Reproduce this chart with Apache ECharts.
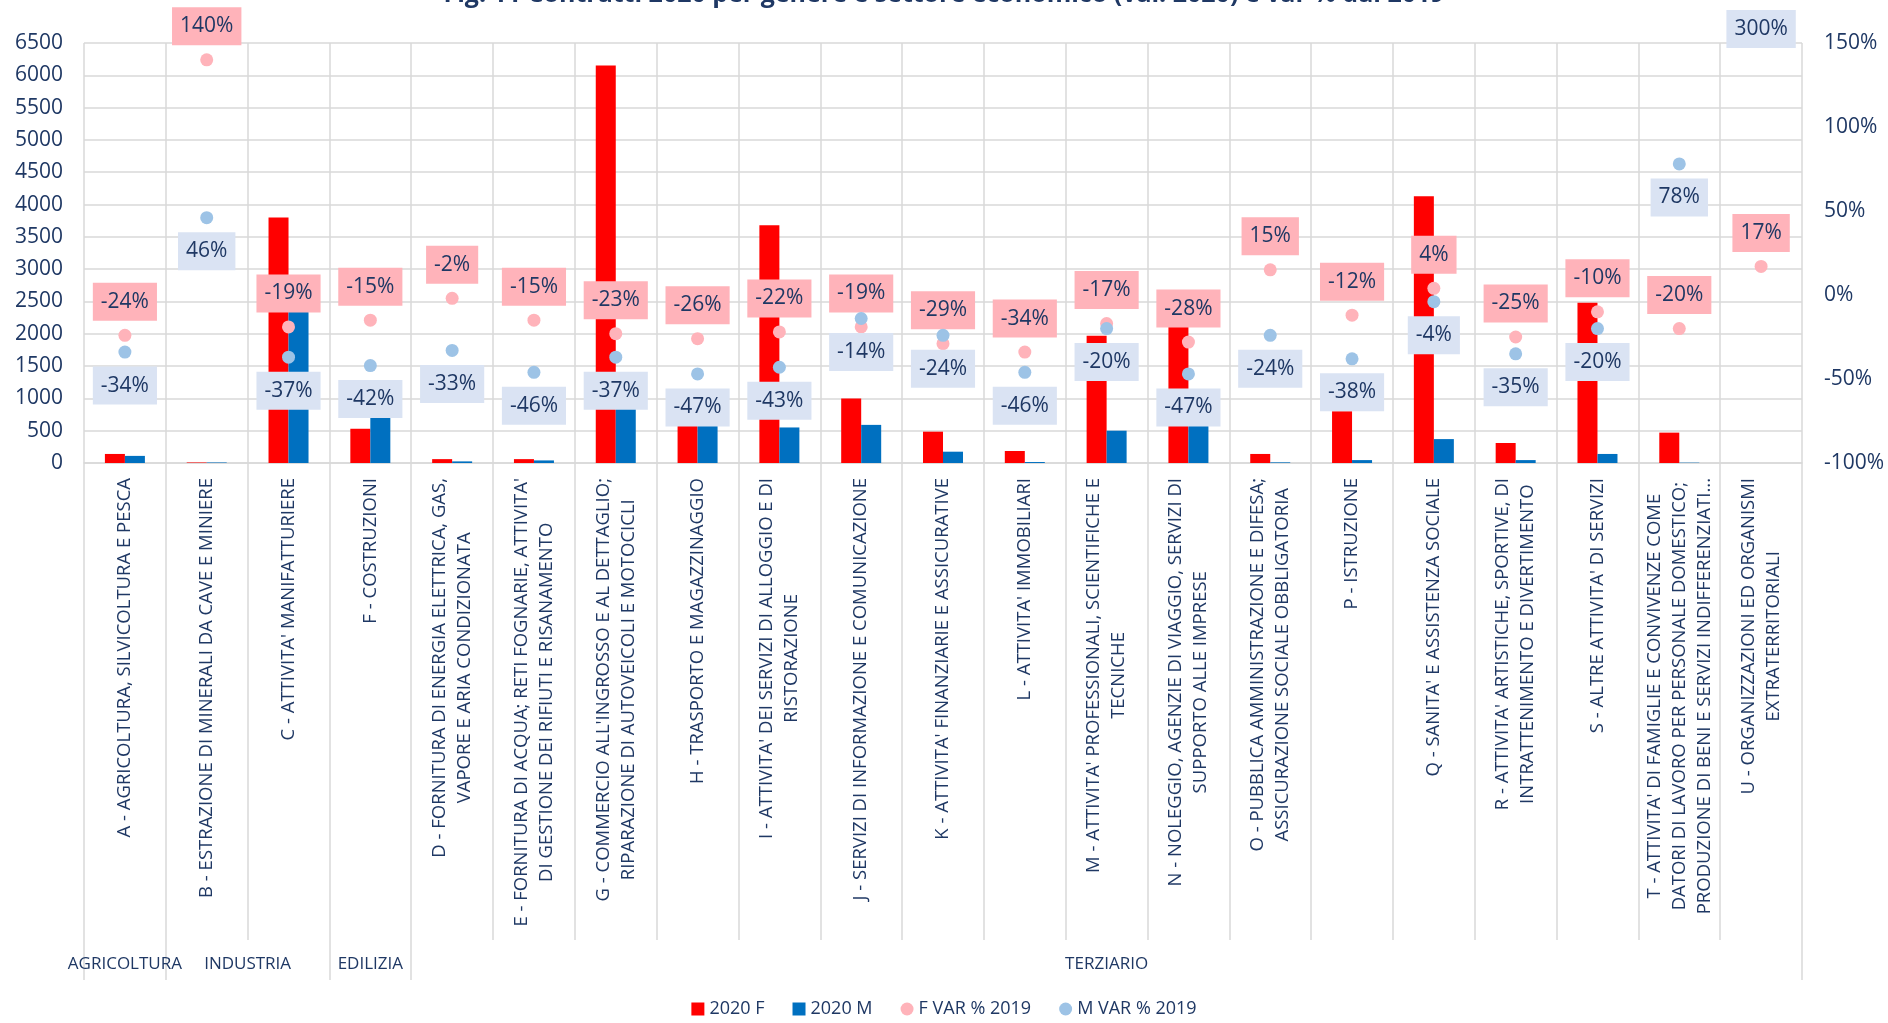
<!DOCTYPE html>
<html>
<head>
<meta charset="utf-8">
<script src="https://cdn.jsdelivr.net/npm/echarts@6/dist/echarts.min.js"></script>
<style>
  html, body { margin: 0; padding: 0; background: #ffffff; }
  #chart { width: 1888px; height: 1023px; }
</style>
</head>
<body>
<div id="chart"></div>
<script>
// settori (ordine del grafico)
const categories = [
  "A - AGRICOLTURA, SILVICOLTURA E PESCA",
  "B - ESTRAZIONE DI MINERALI DA CAVE E MINIERE",
  "C - ATTIVITA' MANIFATTURIERE",
  "F - COSTRUZIONI",
  "D - FORNITURA DI ENERGIA ELETTRICA, GAS,\nVAPORE E ARIA CONDIZIONATA",
  "E - FORNITURA DI ACQUA; RETI FOGNARIE, ATTIVITA'\nDI GESTIONE DEI RIFIUTI E RISANAMENTO",
  "G - COMMERCIO ALL'INGROSSO E AL DETTAGLIO;\nRIPARAZIONE DI AUTOVEICOLI E MOTOCICLI",
  "H - TRASPORTO E MAGAZZINAGGIO",
  "I - ATTIVITA' DEI SERVIZI DI ALLOGGIO E DI\nRISTORAZIONE",
  "J - SERVIZI DI INFORMAZIONE E COMUNICAZIONE",
  "K - ATTIVITA' FINANZIARIE E ASSICURATIVE",
  "L - ATTIVITA' IMMOBILIARI",
  "M - ATTIVITA' PROFESSIONALI, SCIENTIFICHE E\nTECNICHE",
  "N - NOLEGGIO, AGENZIE DI VIAGGIO, SERVIZI DI\nSUPPORTO ALLE IMPRESE",
  "O - PUBBLICA AMMINISTRAZIONE E DIFESA;\nASSICURAZIONE SOCIALE OBBLIGATORIA",
  "P - ISTRUZIONE",
  "Q - SANITA' E ASSISTENZA SOCIALE",
  "R - ATTIVITA' ARTISTICHE, SPORTIVE, DI\nINTRATTENIMENTO E DIVERTIMENTO",
  "S - ALTRE ATTIVITA' DI SERVIZI",
  "T - ATTIVITA' DI FAMIGLIE E CONVIVENZE COME\nDATORI DI LAVORO PER PERSONALE DOMESTICO;\nPRODUZIONE DI BENI E SERVIZI INDIFFERENZIATI...",
  "U - ORGANIZZAZIONI ED ORGANISMI\nEXTRATERRITORIALI"
];

// macro settori e numero di settori in ciascuno
const groupNames = ['AGRICOLTURA', 'INDUSTRIA', 'EDILIZIA', 'TERZIARIO'];
const groupSizes = [1, 2, 1, 17];

// contratti 2020
const f2020 = [140, 8, 3800, 530, 60, 60, 6150, 590, 3680, 1000, 485, 186, 1970, 2120, 140, 800, 4130, 310, 2480, 470, 0];
const m2020 = [110, 8, 2450, 720, 25, 40, 870, 590, 550, 590, 175, 15, 500, 590, 10, 45, 370, 45, 140, 5, 0];

// variazione % sul 2019
const fVar = [-24, 140, -19, -15, -2, -15, -23, -26, -22, -19, -29, -34, -17, -28, 15, -12, 4, -25, -10, -20, 17];
const mVar = [-34, 46, -37, -42, -33, -46, -37, -47, -43, -14, -24, -46, -20, -47, -24, -38, -4, -35, -20, 78, 300];

const leftTicks = { min: 0, max: 6500, interval: 500 };
const rightTicks = { min: -100, max: 150, interval: 50 };

const navy = '#1F3864';
const gridGray = '#D9D9D9';
const font = 'Open Sans';

// confini e centri dei macro settori
const groupBounds = [0];
groupSizes.forEach((s, i) => groupBounds.push(groupBounds[i] + s));
const groupCenters = groupSizes.map((s, i) => groupBounds[i] + s / 2);

// punti fuori scala (es. 300%)
const mOver = mVar
  .map((v, i) => v > rightTicks.max ? { coord: [i, rightTicks.max], value: v } : null)
  .filter(Boolean);

const chart = echarts.init(document.getElementById('chart'));

const pctLabel = (bg, pos) => ({
  show: true,
  position: pos,
  distance: 8,
  formatter: p => p.value + '%',
  backgroundColor: bg,
  padding: [8, 8],
  color: navy,
  fontFamily: font,
  fontSize: 21,
  lineHeight: 22
});

const option = {
  backgroundColor: '#ffffff',
  textStyle: { fontFamily: font, color: navy },
  title: {
    text: 'Fig. 11 Contratti 2020 per genere e settore economico (val. 2020) e var % dal 2019',
    left: 'center',
    top: -23,
    textStyle: { color: navy, fontFamily: font, fontSize: 25, fontWeight: 'bold' }
  },
  legend: {
    bottom: 0,
    left: 'center',
    itemWidth: 13,
    itemHeight: 13,
    itemGap: 28,
    textStyle: { color: navy, fontFamily: font, fontSize: 18 },
    data: [
      { name: '2020 F', icon: 'rect' },
      { name: '2020 M', icon: 'rect' },
      { name: 'F VAR % 2019', icon: 'circle' },
      { name: 'M VAR % 2019', icon: 'circle' }
    ]
  },
  grid: { left: 84, right: 86, top: 43, bottom: 560 },
  xAxis: [
    {
      type: 'category',
      data: categories,
      axisLine: { lineStyle: { color: gridGray, width: 1.5 } },
      axisTick: { show: true, interval: 0, length: 477, lineStyle: { color: gridGray, width: 1.5 } },
      splitLine: { show: true, interval: 0, lineStyle: { color: gridGray, width: 1.5 } },
      axisLabel: {
        interval: 0,
        rotate: 90,
        margin: 15,
        color: navy,
        fontFamily: font,
        fontSize: 18.5,
        lineHeight: 25,
        formatter: v => v.split('\n').map(l => '{c|' + l + '}').join('\n'),
        rich: { c: { align: 'center', color: navy, fontFamily: font, fontSize: 18.5, lineHeight: 25 } }
      }
    },
    {
      // nomi dei macro settori
      type: 'value',
      position: 'bottom',
      offset: 477,
      min: 0,
      max: categories.length,
      axisLine: { show: false },
      splitLine: { show: false },
      axisTick: { show: false },
      axisLabel: {
        customValues: groupCenters,
        margin: 16,
        color: navy,
        fontFamily: font,
        fontSize: 17,
        formatter: v => groupNames[groupCenters.indexOf(v)] || ''
      }
    },
    {
      // separatori dei macro settori
      type: 'category',
      data: categories,
      position: 'bottom',
      offset: 477,
      axisLine: { show: false },
      splitLine: { show: false },
      axisLabel: { show: false },
      axisTick: {
        show: true,
        interval: i => groupBounds.indexOf(i) !== -1,
        length: 40,
        lineStyle: { color: gridGray, width: 1.5 }
      }
    }
  ],
  yAxis: [
    {
      type: 'value',
      min: leftTicks.min,
      max: leftTicks.max,
      interval: leftTicks.interval,
      axisLine: { show: false },
      axisTick: { show: false },
      splitLine: { lineStyle: { color: gridGray, width: 1.5 } },
      axisLabel: { color: navy, fontFamily: font, fontSize: 21, margin: 21, formatter: v => String(v) }
    },
    {
      type: 'value',
      min: rightTicks.min,
      max: rightTicks.max,
      interval: rightTicks.interval,
      axisLine: { show: false },
      axisTick: { show: false },
      splitLine: { show: false },
      axisLabel: { color: navy, fontFamily: font, fontSize: 21, margin: 22, formatter: '{value}%' }
    }
  ],
  series: [
    {
      name: '2020 F',
      type: 'bar',
      data: f2020,
      barWidth: 20,
      barGap: '0%',
      itemStyle: { color: '#FF0000' }
    },
    {
      name: '2020 M',
      type: 'bar',
      data: m2020,
      barWidth: 20,
      barGap: '0%',
      itemStyle: { color: '#0070C0' }
    },
    {
      name: 'F VAR % 2019',
      type: 'scatter',
      yAxisIndex: 1,
      data: fVar,
      symbolSize: 13,
      itemStyle: { color: '#FFB3BA', opacity: 1 },
      label: pctLabel('#FFB3BA', 'top'),
      z: 3
    },
    {
      name: 'M VAR % 2019',
      type: 'scatter',
      yAxisIndex: 1,
      data: mVar,
      symbolSize: 13,
      clip: true,
      itemStyle: { color: '#9DC3E6', opacity: 1 },
      label: pctLabel('#DAE3F3', 'bottom'),
      markPoint: {
        symbol: 'circle',
        symbolSize: 2,
        itemStyle: { color: 'rgba(0,0,0,0)' },
        label: Object.assign(pctLabel('#DAE3F3', 'top'), { distance: -6, formatter: p => p.value + '%' }),
        data: mOver
      },
      z: 4
    }
  ]
};

chart.setOption(option);
</script>
</body>
</html>
